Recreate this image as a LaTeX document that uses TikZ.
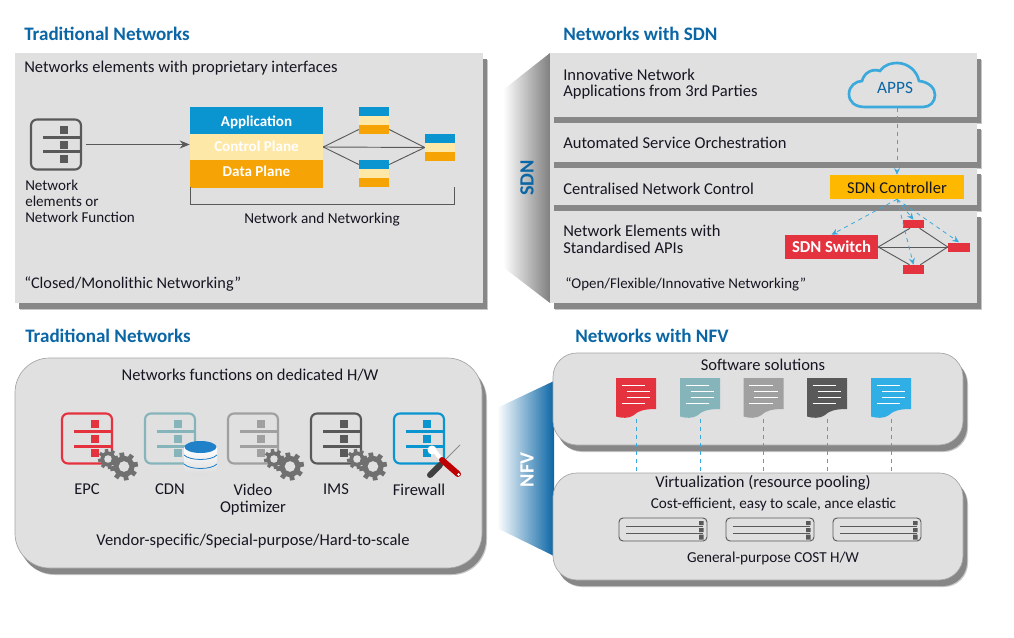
\documentclass[tikz,border=0pt]{standalone}
\usepackage{fontspec}
\setmainfont{Carlito}
\usetikzlibrary{shadows,arrows.meta}
\definecolor{titleblue}{RGB}{11,102,165}
\definecolor{panelgray}{RGB}{224,224,224}
\definecolor{shadowgray}{RGB}{135,135,135}
\definecolor{edgegray}{RGB}{165,165,165}
\definecolor{inkgray}{RGB}{89,89,89}
\definecolor{planeblue}{RGB}{10,148,208}
\definecolor{planecream}{RGB}{254,232,168}
\definecolor{planeorange}{RGB}{245,163,5}
\definecolor{dashblue}{RGB}{59,169,220}
\definecolor{ctrlyellow}{RGB}{255,184,0}
\definecolor{switchred}{RGB}{229,50,63}
\definecolor{tealgray}{RGB}{133,181,187}
\definecolor{midgray}{RGB}{160,160,160}
\definecolor{cdnblue}{RGB}{32,128,200}
\definecolor{skyblue}{RGB}{48,174,230}
\definecolor{textblack}{RGB}{22,22,34}
\definecolor{gearcolor}{RGB}{112,112,112}
\def\px{0.75pt}
\tikzset{
  heading/.style={font=\fontsize{14.3}{16}\selectfont\bfseries, text=titleblue, anchor=west, inner sep=0},
  lefttext/.style={font=\fontsize{12.4}{12.6}\selectfont, text=textblack, anchor=west, align=left, inner sep=0},
  midtext/.style={font=\fontsize{12.4}{12.6}\selectfont, text=textblack, align=center, inner sep=0},
  smalltext/.style={font=\fontsize{11.4}{12.6}\selectfont, text=textblack, align=center, inner sep=0},
  boxshadow/.style={general shadow={shadow xshift=5*\px, shadow yshift=-7*\px, fill=black!22},
    general shadow={shadow xshift=4*\px, shadow yshift=-6*\px, fill=shadowgray}},
  sqpanel/.style={fill=panelgray, boxshadow, inner sep=0},
  roundpanel/.style={sqpanel, draw=edgegray, line width=0.5pt, rounded corners=#1},
  layerbox/.style={fill=#1, inner sep=0, font=\fontsize{11.3}{13}\selectfont\bfseries, text=white},
  hostline/.style={draw=inkgray, line width=0.7pt},
  dashlink/.style={draw=dashblue, dashed, line width=0.6pt},
  dasharrow/.style={dashlink, -{Stealth[length=5pt,width=4.5pt]}},
  iconbox/.style={draw=#1, line width=1.6pt, rounded corners=4.5pt, minimum width=50*\px, minimum height=50*\px, inner sep=0},
  docbox/.style={minimum width=40*\px, minimum height=39*\px, inner sep=0},
  serverbox/.style={draw=inkgray, fill=panelgray, line width=0.7pt, rounded corners=3pt, minimum width=88*\px, minimum height=23*\px, inner sep=0},
}
% network element icon
\newcommand{\neticon}[4]{
  \begin{scope}[shift={(#2,#3)}]
    \node[iconbox=#4] (#1) at (0,0) {};
    \fill[#4] (4,-18.5) rectangle (12,-10.5);
    \fill[#4] (4,-3.5) rectangle (12,4.5);
    \fill[#4] (4,10.5) rectangle (12,18.5);
    \fill[#4] (-13,-8.5) rectangle (25,-5.5);
    \fill[#4] (-13,6) rectangle (25,9);
  \end{scope}
}
% one gear wheel
\newcommand{\gearwheel}[3]{
  \begin{scope}[shift={(#1,#2)}]
    \fill[gearcolor] (0,0) circle (#3*0.76);
    \foreach \a in {0,45,90,135}
      \fill[gearcolor, rotate=\a+10] (-#3*0.17,-#3) rectangle (#3*0.17,#3);
    \fill[panelgray] (0,0) circle (#3*0.38);
  \end{scope}
}
% two gears next to an icon
\newcommand{\gearpair}[2]{
  \gearwheel{#1+21}{#2+20.5}{10}
  \gearwheel{#1+37}{#2+28}{14}
}
% document icon
\newcommand{\docicon}[3]{
  \begin{scope}[shift={(#2,378)}]
    \node[docbox] (#1) at (20,19.5) {};
    \fill[#3] (0,0) -- (40,0) -- (40,31) .. controls (28,31) and (22,33) .. (18,37) .. controls (13,41) and (5,40) .. (0,38.5) -- cycle;
    \draw[white, line width=0.6pt] (5.5,7) -- (29,7) (10.5,13) -- (34,13) (10.5,19) -- (34,19) (5.5,25) -- (29,25);
  \end{scope}
}
% server box
\newcommand{\serverunit}[2]{
  \node[serverbox] (#1) at (#2,529.5) {};
  \begin{scope}[shift={(#2-44,518)}]
    \draw[inkgray, line width=0.5pt] (7,8) -- (84,8) (7,15) -- (84,15);
    \fill[inkgray] (80,3) rectangle (84.5,7) (80,10) rectangle (84.5,14) (80,16.5) rectangle (84.5,21.5);
  \end{scope}
}
\begin{document}
\begin{tikzpicture}[x=0.75pt,y=-0.75pt]
  \useasboundingbox (0,0) rectangle (1014,638);
  \fill[white] (0,0) rectangle (1014,638);

  % Traditional networks, top left
  \node[heading] (titleTrad) at (24,34) {Traditional Networks};
  \node[sqpanel, minimum width=468*\px, minimum height=250*\px] (tradPanel) at (249,178) {};
  \node[lefttext] (tradHead) at (24,68) {Networks elements with proprietary interfaces};
  \neticon{tradIcon}{56}{144.5}{inkgray}
  \node[lefttext, font=\fontsize{11.3}{12.2}\selectfont] (tradIconText) at (25,201.5) {Network\\elements or\\Network Function};
  \node[lefttext, font=\fontsize{12.2}{13}\selectfont] (tradClosed) at (24,284) {“Closed/Monolithic Networking”};

  \node[layerbox=planeblue, minimum width=133*\px, minimum height=27*\px, text height=10pt, text depth=1pt] (planeApp) at (256.5,120.5) {Application};
  \node[layerbox=planecream, minimum width=133*\px, minimum height=26*\px, text height=8pt, text depth=1pt] (planeCtrl) at (256.5,147) {Control Plane};
  \node[layerbox=planeorange, minimum width=133*\px, minimum height=28*\px, text height=6pt, text depth=2pt] (planeData) at (256.5,174) {Data Plane};
  \draw[inkgray, line width=0.6pt, -{Stealth[length=7.5pt,width=6pt]}] (tradIcon.east) ++(4,0) -- (tradIcon.east -| planeCtrl.west);

  % small stacks
  \foreach \n/\yy in {stackA/107,stackB/160}{
    \node[layerbox=planeblue, minimum width=30*\px, minimum height=9*\px] (\n top) at (374,\yy+4.5) {};
    \node[layerbox=planecream, minimum width=30*\px, minimum height=9*\px] (\n mid) at (374,\yy+13.5) {};
    \node[layerbox=planeorange, minimum width=30*\px, minimum height=9*\px] (\n low) at (374,\yy+22.5) {};
  }
  \node[layerbox=planeblue, minimum width=30*\px, minimum height=9*\px] (stackCtop) at (440,138.5) {};
  \node[layerbox=planecream, minimum width=30*\px, minimum height=9*\px] (stackCmid) at (440,147.5) {};
  \node[layerbox=planeorange, minimum width=30*\px, minimum height=9*\px] (stackClow) at (440,156.5) {};
  \draw[hostline] (planeCtrl.east) -- (stackAlow.west);
  \draw[hostline] (planeCtrl.east) -- (stackBtop.west);
  \draw[hostline] (planeCtrl.east) -- (stackCmid.west);
  \draw[hostline] (stackAlow.east) -- (stackCmid.west);
  \draw[hostline] (stackBtop.east) -- (stackCmid.west);
  \coordinate (braceLeft) at (190,187);
  \coordinate (braceRight) at (454,187);
  \draw[hostline] (braceLeft) -- ++(0,17.5) -| (braceRight);
  \node[smalltext] (braceText) at (322,220) {Network and Networking};

  % SDN wedge and rows
  \node[heading] (titleSdn) at (563,34) {Networks with SDN};
  \shade[left color=white, right color=black!50] (503,90) -- (550,53) -- (550,303) -- (503,267) -- cycle;
  \fill[panelgray] (550,53) rectangle (554,303);
  \node[font=\fontsize{15.2}{16}\selectfont\bfseries, text=titleblue, rotate=90, inner sep=0] (sdnTag) at (527,178) {SDN};
  \node[sqpanel, minimum width=426.5*\px, minimum height=64*\px] (rowApps) at (763.25,85) {};
  \node[sqpanel, minimum width=426.5*\px, minimum height=39*\px] (rowOrch) at (763.25,142.5) {};
  \node[sqpanel, minimum width=426.5*\px, minimum height=37*\px] (rowCtrl) at (763.25,186.5) {};
  \node[sqpanel, minimum width=426.5*\px, minimum height=92*\px] (rowElem) at (763.25,257) {};
  \node[lefttext] (rowAppsText) at (563,84) {Innovative Network\\Applications from 3rd Parties};
  \node[lefttext] (rowOrchText) at (563,143) {Automated Service Orchestration};
  \node[lefttext] (rowCtrlText) at (563,189) {Centralised Network Control};
  \node[lefttext] (rowElemText) at (563,239.5) {Network Elements with\\Standardised APIs};
  \node[lefttext, font=\fontsize{11.2}{13}\selectfont] (openText) at (565,284) {“Open/Flexible/Innovative Networking”};

  % cloud
  \draw[dashblue, line width=2pt] (865,107) .. controls (855,107) and (849,102) .. (849,94)
    .. controls (849,86) and (856,81) .. (862,81) .. controls (864,73) and (872,68) .. (880,71)
    .. controls (885,64) and (892,63) .. (897,63) .. controls (908,63) and (917,71) .. (919,81)
    .. controls (929,82) and (935,88) .. (935,95) .. controls (935,102) and (930,107) .. (923,107) -- cycle;
  \node[midtext, text=titleblue, font=\fontsize{13}{14}\selectfont] (appsText) at (895,88) {APPS};
  \coordinate (cloudBase) at (897,108);

  \node[fill=ctrlyellow, minimum width=134*\px, minimum height=24*\px, midtext, text height=10.2pt, text depth=0.2pt] (sdnCtrl) at (897,187) {SDN Controller};
  \node[fill=switchred, minimum width=93*\px, minimum height=24*\px, inner sep=0, font=\fontsize{12.5}{14}\selectfont\bfseries, text=white] (sdnSwitch) at (831.5,247) {SDN Switch};
  \node[fill=switchred, minimum width=21*\px, minimum height=8*\px, inner sep=0] (redA) at (913.5,224) {};
  \node[fill=switchred, minimum width=21*\px, minimum height=9*\px, inner sep=0] (redB) at (913.5,269.5) {};
  \node[fill=switchred, minimum width=22*\px, minimum height=9*\px, inner sep=0] (redC) at (959,247) {};
  \draw[hostline] (sdnSwitch.east) -- (redA.230);
  \draw[hostline] (sdnSwitch.east) -- (redB.130);
  \draw[hostline] (sdnSwitch.east) -- (redC.west);
  \draw[hostline] (redA.-35) -- (redC.west);
  \draw[hostline] (redB.35) -- (redC.west);
  \draw[dasharrow] (cloudBase) -- (sdnCtrl.north);
  \draw[dasharrow] (sdnCtrl.south) -- (sdnSwitch.north);
  \draw[dasharrow] (sdnCtrl.south) -- (redA.north);
  \draw[dasharrow] (sdnCtrl.south) -- (redB.north);
  \draw[dasharrow] (sdnCtrl.south) -- (redC.north);

  % Traditional networks, bottom left
  \node[heading] (titleFunc) at (25,336) {Traditional Networks};
  \node[roundpanel=26pt, minimum width=467*\px, minimum height=210*\px] (funcPanel) at (248.5,463) {};
  \node[midtext] (funcHead) at (250,375.5) {Networks functions on dedicated H/W};
  \neticon{epcIcon}{87}{438.5}{switchred}
  \neticon{cdnIcon}{170}{438.5}{tealgray}
  \neticon{videoIcon}{253}{438.5}{midgray}
  \neticon{imsIcon}{336}{438.5}{inkgray}
  \neticon{fireIcon}{419}{438.5}{planeblue}
  \gearpair{87}{438.5}
  \gearpair{253}{438.5}
  \gearpair{336}{438.5}
  \node[midtext, anchor=north] (epcText) at (87,484) {EPC};
  \node[midtext, anchor=north] (cdnText) at (170,484) {CDN};
  \node[midtext, anchor=north] (videoText) at (253,484) {Video\\Optimizer};
  \node[midtext, anchor=north] (imsText) at (336,484) {IMS};
  \node[midtext, anchor=north] (fireText) at (419,484) {Firewall};
  \node[midtext] (funcFoot) at (253,541) {Vendor-specific/Special-purpose/Hard-to-scale};

  % database on the CDN icon
  \shade[top color=white, bottom color=black!15] (184,447) -- (184,468) .. controls (184,478) and (217,478) .. (217,468) -- (217,447) -- cycle;
  \fill[cdnblue] (200.5,447) ellipse (16 and 6);
  \draw[cdnblue, line width=0.6pt] (184,455) .. controls (190,461) and (211,461) .. (217,455);
  \draw[cdnblue, line width=0.6pt] (184,464) .. controls (190,470) and (211,470) .. (217,464);

  % tools on the firewall icon
  \draw[black!45, line width=0.7pt] (440,465) -- (460,445);
  \draw[black!75, line width=4.5pt, line cap=round] (430,475) -- (440,465);
  \draw[white, line width=3pt, line cap=round] (433,449) -- (441,459);
  \fill[white] (432,450) circle (4.5);
  \draw[red!75!black, line width=4.5pt, line cap=round] (442,460) -- (458,474);
  \fill[white] (458.5,474.5) circle (1.5);

  % NFV wedge and panels
  \node[heading] (titleNfv) at (575,336) {Networks with NFV};
  \shade[left color=white, right color=titleblue] (497,408) -- (554,381) -- (554,556) -- (497,528) -- cycle;
  \node[font=\fontsize{15.2}{16}\selectfont\bfseries, text=white, rotate=90, inner sep=0] (nfvTag) at (527,470) {NFV};
  \node[roundpanel=18pt, minimum width=410*\px, minimum height=92*\px] (softPanel) at (758,399) {};
  \node[roundpanel=18pt, minimum width=410*\px, minimum height=107*\px] (virtPanel) at (758,526.5) {};
  \node[midtext] (softHead) at (763,365) {Software solutions};
  \docicon{docRed}{616}{switchred}
  \docicon{docTeal}{680}{tealgray}
  \docicon{docGray}{743.5}{midgray}
  \docicon{docDark}{807}{inkgray}
  \docicon{docSky}{871}{skyblue}
  \foreach \d in {docRed,docTeal,docGray,docDark,docSky}
    \draw[dashlink] (\d.south) ++(0,2) -- (\d.south |- virtPanel.north);
  \node[midtext] (virtHead) at (763,482.5) {Virtualization (resource pooling)};
  \node[smalltext] (virtSub) at (773.5,504) {Cost-efficient, easy to scale, ance elastic};
  \serverunit{hostA}{663}
  \serverunit{hostB}{770}
  \serverunit{hostC}{877}
  \node[smalltext] (virtFoot) at (773,558) {General-purpose COST H/W};
\end{tikzpicture}
\end{document}
